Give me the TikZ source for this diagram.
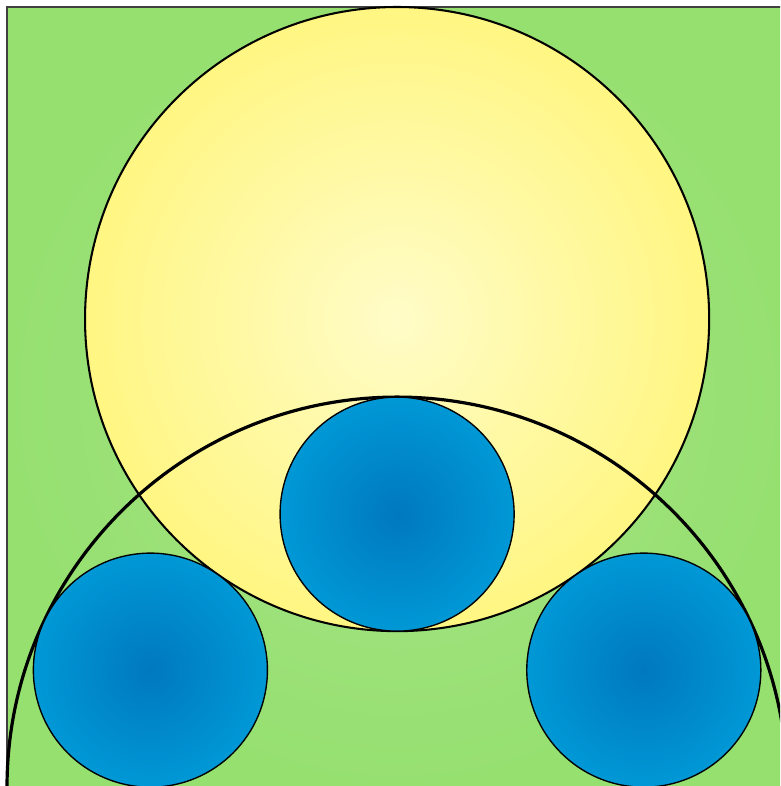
\documentclass[tikz,border=0pt]{standalone}
\usepackage{tikz}
\usetikzlibrary{calc}
\definecolor{grassin}{RGB}{166,226,136}
\definecolor{grassout}{RGB}{150,224,112}
\definecolor{sunin}{RGB}{255,252,200}
\definecolor{sunout}{RGB}{255,246,130}
\definecolor{dropin}{RGB}{0,120,192}
\definecolor{dropout}{RGB}{0,152,214}

\tikzset{
  bluedisc/.style={inner color=dropin, outer color=dropout, draw=black, line width=0.3pt},
}

\begin{document}
\begin{tikzpicture}[scale=3]
            \clip (-1.018,0.003) rectangle (0.982,2.018);
            \useasboundingbox (-1.018,0.003) rectangle (0.982,2.018);
            % centres
            \coordinate (O) at (0,0);
            \coordinate (sun) at (0,1.2);
            \coordinate (top) at (0,0.7);
            \coordinate (left) at ({-sqrt(0.4)},0.3);
            \coordinate (right) at ({sqrt(0.4)},0.3);
            % square background
            \shade[inner color=grassin, outer color=grassout, draw=black!75, line width=0.3pt]
                (-1,0) rectangle (1,2);
            % big circle
            \shade[inner color=sunin, outer color=sunout, draw=black, line width=0.45pt]
                (sun) circle (0.8);
            % semicircle
            \draw[line width=0.7pt] (1,0) arc (0:180:1);
            % three small circles
            \shade[bluedisc] (top) circle (0.3);
            \shade[bluedisc] (left) circle (0.3);
            \shade[bluedisc] (right) circle (0.3);
        \end{tikzpicture}
\end{document}
